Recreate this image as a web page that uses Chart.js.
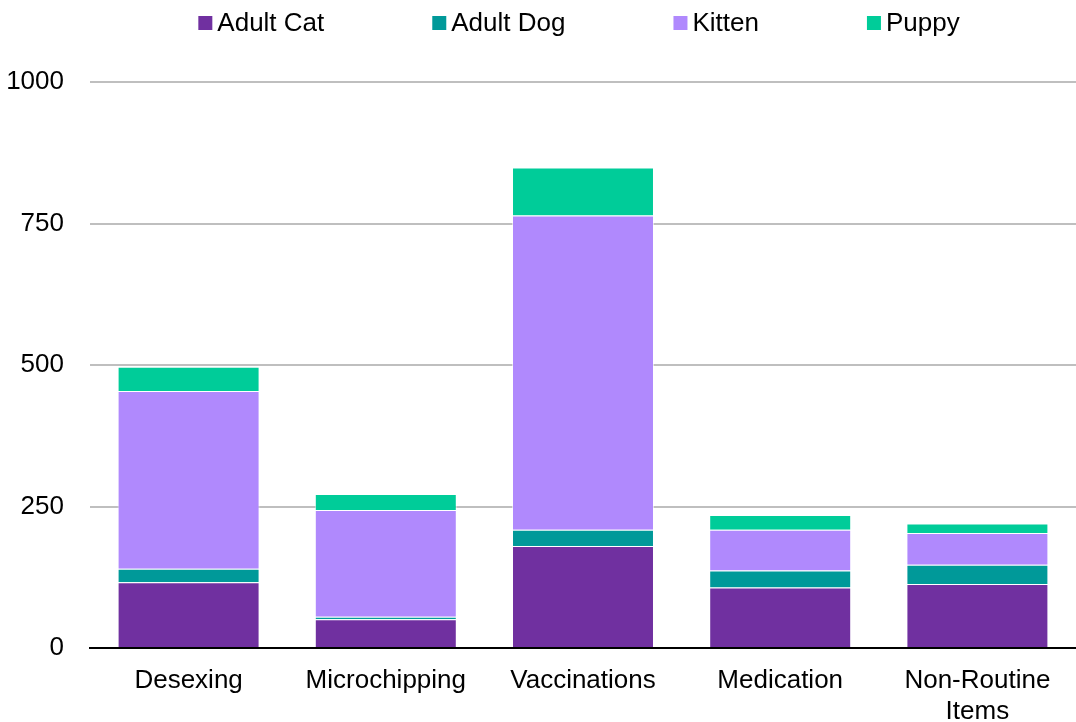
<!DOCTYPE html>
<html>
<head>
<meta charset="utf-8">
<script src="https://cdn.jsdelivr.net/npm/chart.js@4"></script>
<style>
  body { margin: 0; background: #fff; }
  #wrap { width: 1076px; height: 722px; position: relative; }
</style>
</head>
<body>
<div id="wrap"><canvas id="treatChart"></canvas></div>
<script>
const categories = ['Desexing', 'Microchipping', 'Vaccinations', 'Medication', ['Non-Routine', 'Items']];
const adultCat = [116, 51, 180, 107, 113];
const adultDog = [24, 4, 29, 30, 34];
const kitten = [314, 189, 555, 72, 56];
const puppy = [43, 28, 85, 26, 17];
const yTicks = [0, 250, 500, 750, 1000];

const FONT = 'Liberation Sans, Arial, sans-serif';

// legend drawn by hand so spacing can match the original
const topLegend = {
    id: 'topLegend',
    afterDraw(chart) {
        const ctx = chart.ctx;
        const sets = chart.data.datasets;
        const box = 14, gap = 5, pad = 108;
        ctx.save();
        ctx.font = '26px ' + FONT;
        ctx.textBaseline = 'middle';
        let total = 0;
        const widths = sets.map(ds => ctx.measureText(ds.label).width);
        widths.forEach(w => total += box + gap + w);
        total += pad * (sets.length - 1);
        const area = chart.chartArea;
        let x = (area.left + area.right) / 2 - total / 2 - 4;
        const y = 23;
        sets.forEach((ds, i) => {
            ctx.fillStyle = ds.backgroundColor;
            ctx.fillRect(x, y - box / 2, box, box);
            ctx.fillStyle = '#000';
            ctx.fillText(ds.label, x + box + gap, y + 1);
            x += box + gap + widths[i] + pad;
        });
        ctx.restore();
    }
};

new Chart(document.getElementById('treatChart'), {
    type: 'bar',
    data: {
        labels: categories,
        datasets: [
            { label: 'Adult Cat', data: adultCat, backgroundColor: '#7030A0' },
            { label: 'Adult Dog', data: adultDog, backgroundColor: '#009999' },
            { label: 'Kitten', data: kitten, backgroundColor: '#B089FD' },
            { label: 'Puppy', data: puppy, backgroundColor: '#00CC99' }
        ].map(ds => Object.assign(ds, {
            borderColor: 'rgba(255,255,255,0.6)',
            borderWidth: 1,
            barPercentage: 0.72,
            categoryPercentage: 1
        }))
    },
    options: {
        responsive: true,
        maintainAspectRatio: false,
        animation: false,
        layout: { padding: { top: 82, left: 0, right: 0, bottom: 0 } },
        plugins: {
            legend: { display: false },
            tooltip: { enabled: false }
        },
        scales: {
            x: {
                stacked: true,
                grid: { display: false, drawTicks: false },
                border: { color: '#000', width: 2 },
                ticks: {
                    color: '#000',
                    font: { family: FONT, size: 26 },
                    padding: 17,
                    maxRotation: 0,
                    autoSkip: false
                },
                afterFit(scale) { scale.height = 74; }
            },
            y: {
                stacked: true,
                min: 0,
                max: 1000,
                afterBuildTicks(scale) { scale.ticks = yTicks.map(v => ({ value: v })); },
                grid: {
                    color: ctx => ctx.tick && ctx.tick.value === 0 ? 'rgba(0,0,0,0)' : '#BFBFBF',
                    lineWidth: 2,
                    drawTicks: false
                },
                border: { display: false },
                ticks: {
                    color: '#000',
                    font: { family: FONT, size: 26 },
                    padding: 26,
                    callback: value => String(value)
                },
                afterFit(scale) { scale.width = 90; }
            }
        }
    },
    plugins: [topLegend]
});
</script>
</body>
</html>
